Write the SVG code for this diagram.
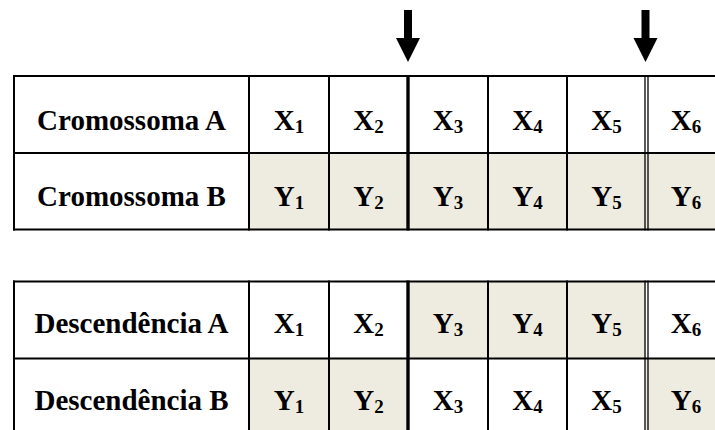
<svg xmlns="http://www.w3.org/2000/svg" width="715" height="430" viewBox="0 0 715 430">
  <style>
    text { font-family: 'Liberation Serif', 'Times New Roman', Tinos, 'DejaVu Serif', serif; font-weight: 700; font-size: 29px; fill: #000; text-anchor: middle; }
    .s { font-size: 19px; }
    .sh { fill: #EEECE1; }
    .ln { stroke: #000; stroke-width: 2; fill: none; }
    .thick { stroke: #000; stroke-width: 3.4; fill: none; }
    .dbl { stroke: #000; stroke-width: 1.3; fill: none; }
  </style>
  <rect width="715" height="430" fill="#fff"/>

  <g id="arrows">
    <g id="arrow1">
      <rect x="404" y="10" width="8" height="29"/>
      <polygon points="396,38 420,38 408,62"/>
    </g>
    <g id="arrow2">
      <rect x="641.5" y="10" width="8" height="29"/>
      <polygon points="633.5,38 657.5,38 645.5,62"/>
    </g>
  </g>

  <g id="table-cromossomas" font-family="Liberation Serif, serif">
    <g id="shading1">
      <rect class="sh" x="249" y="153" width="80" height="76.5"/>
      <rect class="sh" x="329" y="153" width="79" height="76.5"/>
      <rect class="sh" x="408" y="153" width="80" height="76.5"/>
      <rect class="sh" x="488" y="153" width="79" height="76.5"/>
      <rect class="sh" x="567" y="153" width="79" height="76.5"/>
      <rect class="sh" x="646" y="153" width="80" height="76.5"/>
    </g>
    <g id="grid1">
      <line class="ln" x1="13" y1="76" x2="730" y2="76"/>
      <line class="ln" x1="13" y1="153" x2="730" y2="153"/>
      <line class="ln" x1="13" y1="229.5" x2="730" y2="229.5"/>
      <line class="ln" x1="14" y1="75" x2="14" y2="230.5"/>
      <line class="ln" x1="249" y1="75" x2="249" y2="230.5"/>
      <line class="ln" x1="329" y1="75" x2="329" y2="230.5"/>
      <line class="thick" x1="408" y1="75" x2="408" y2="230.5"/>
      <line class="ln" x1="488" y1="75" x2="488" y2="230.5"/>
      <line class="ln" x1="567" y1="75" x2="567" y2="230.5"/>
      <line class="dbl" x1="645" y1="75" x2="645" y2="230.5"/>
      <line class="dbl" x1="648" y1="75" x2="648" y2="230.5"/>
    </g>
    <g id="row-cromossoma-a">
      <text x="131.5" y="129.5">Cromossoma A</text>
      <text x="289" y="129.5">X<tspan class="s" dy="3">1</tspan></text>
      <text x="368.5" y="129.5">X<tspan class="s" dy="3">2</tspan></text>
      <text x="448" y="129.5">X<tspan class="s" dy="3">3</tspan></text>
      <text x="527.5" y="129.5">X<tspan class="s" dy="3">4</tspan></text>
      <text x="606.5" y="129.5">X<tspan class="s" dy="3">5</tspan></text>
      <text x="686" y="129.5">X<tspan class="s" dy="3">6</tspan></text>
    </g>
    <g id="row-cromossoma-b">
      <text x="131.5" y="206">Cromossoma B</text>
      <text x="289" y="206">Y<tspan class="s" dy="3">1</tspan></text>
      <text x="368.5" y="206">Y<tspan class="s" dy="3">2</tspan></text>
      <text x="448" y="206">Y<tspan class="s" dy="3">3</tspan></text>
      <text x="527.5" y="206">Y<tspan class="s" dy="3">4</tspan></text>
      <text x="606.5" y="206">Y<tspan class="s" dy="3">5</tspan></text>
      <text x="686" y="206">Y<tspan class="s" dy="3">6</tspan></text>
    </g>
  </g>

  <g id="table-descendencias">
    <g id="shading2">
      <rect class="sh" x="408" y="281.5" width="80" height="77"/>
      <rect class="sh" x="488" y="281.5" width="79" height="77"/>
      <rect class="sh" x="567" y="281.5" width="79" height="77"/>
      <rect class="sh" x="249" y="358.5" width="80" height="77"/>
      <rect class="sh" x="329" y="358.5" width="79" height="77"/>
      <rect class="sh" x="646" y="358.5" width="80" height="77"/>
    </g>
    <g id="grid2">
      <line class="ln" x1="13" y1="281.5" x2="730" y2="281.5"/>
      <line class="ln" x1="13" y1="358.5" x2="730" y2="358.5"/>
      <line class="ln" x1="13" y1="435.5" x2="730" y2="435.5"/>
      <line class="ln" x1="14" y1="280.5" x2="14" y2="436.5"/>
      <line class="ln" x1="249" y1="280.5" x2="249" y2="436.5"/>
      <line class="ln" x1="329" y1="280.5" x2="329" y2="436.5"/>
      <line class="thick" x1="408" y1="280.5" x2="408" y2="436.5"/>
      <line class="ln" x1="488" y1="280.5" x2="488" y2="436.5"/>
      <line class="ln" x1="567" y1="280.5" x2="567" y2="436.5"/>
      <line class="dbl" x1="645" y1="280.5" x2="645" y2="436.5"/>
      <line class="dbl" x1="648" y1="280.5" x2="648" y2="436.5"/>
    </g>
    <g id="row-descendencia-a">
      <text x="131.5" y="333">Descendência A</text>
      <text x="289" y="333">X<tspan class="s" dy="3">1</tspan></text>
      <text x="368.5" y="333">X<tspan class="s" dy="3">2</tspan></text>
      <text x="448" y="333">Y<tspan class="s" dy="3">3</tspan></text>
      <text x="527.5" y="333">Y<tspan class="s" dy="3">4</tspan></text>
      <text x="606.5" y="333">Y<tspan class="s" dy="3">5</tspan></text>
      <text x="686" y="333">X<tspan class="s" dy="3">6</tspan></text>
    </g>
    <g id="row-descendencia-b">
      <text x="131.5" y="410">Descendência B</text>
      <text x="289" y="410">Y<tspan class="s" dy="3">1</tspan></text>
      <text x="368.5" y="410">Y<tspan class="s" dy="3">2</tspan></text>
      <text x="448" y="410">X<tspan class="s" dy="3">3</tspan></text>
      <text x="527.5" y="410">X<tspan class="s" dy="3">4</tspan></text>
      <text x="606.5" y="410">X<tspan class="s" dy="3">5</tspan></text>
      <text x="686" y="410">Y<tspan class="s" dy="3">6</tspan></text>
    </g>
  </g>
</svg>
